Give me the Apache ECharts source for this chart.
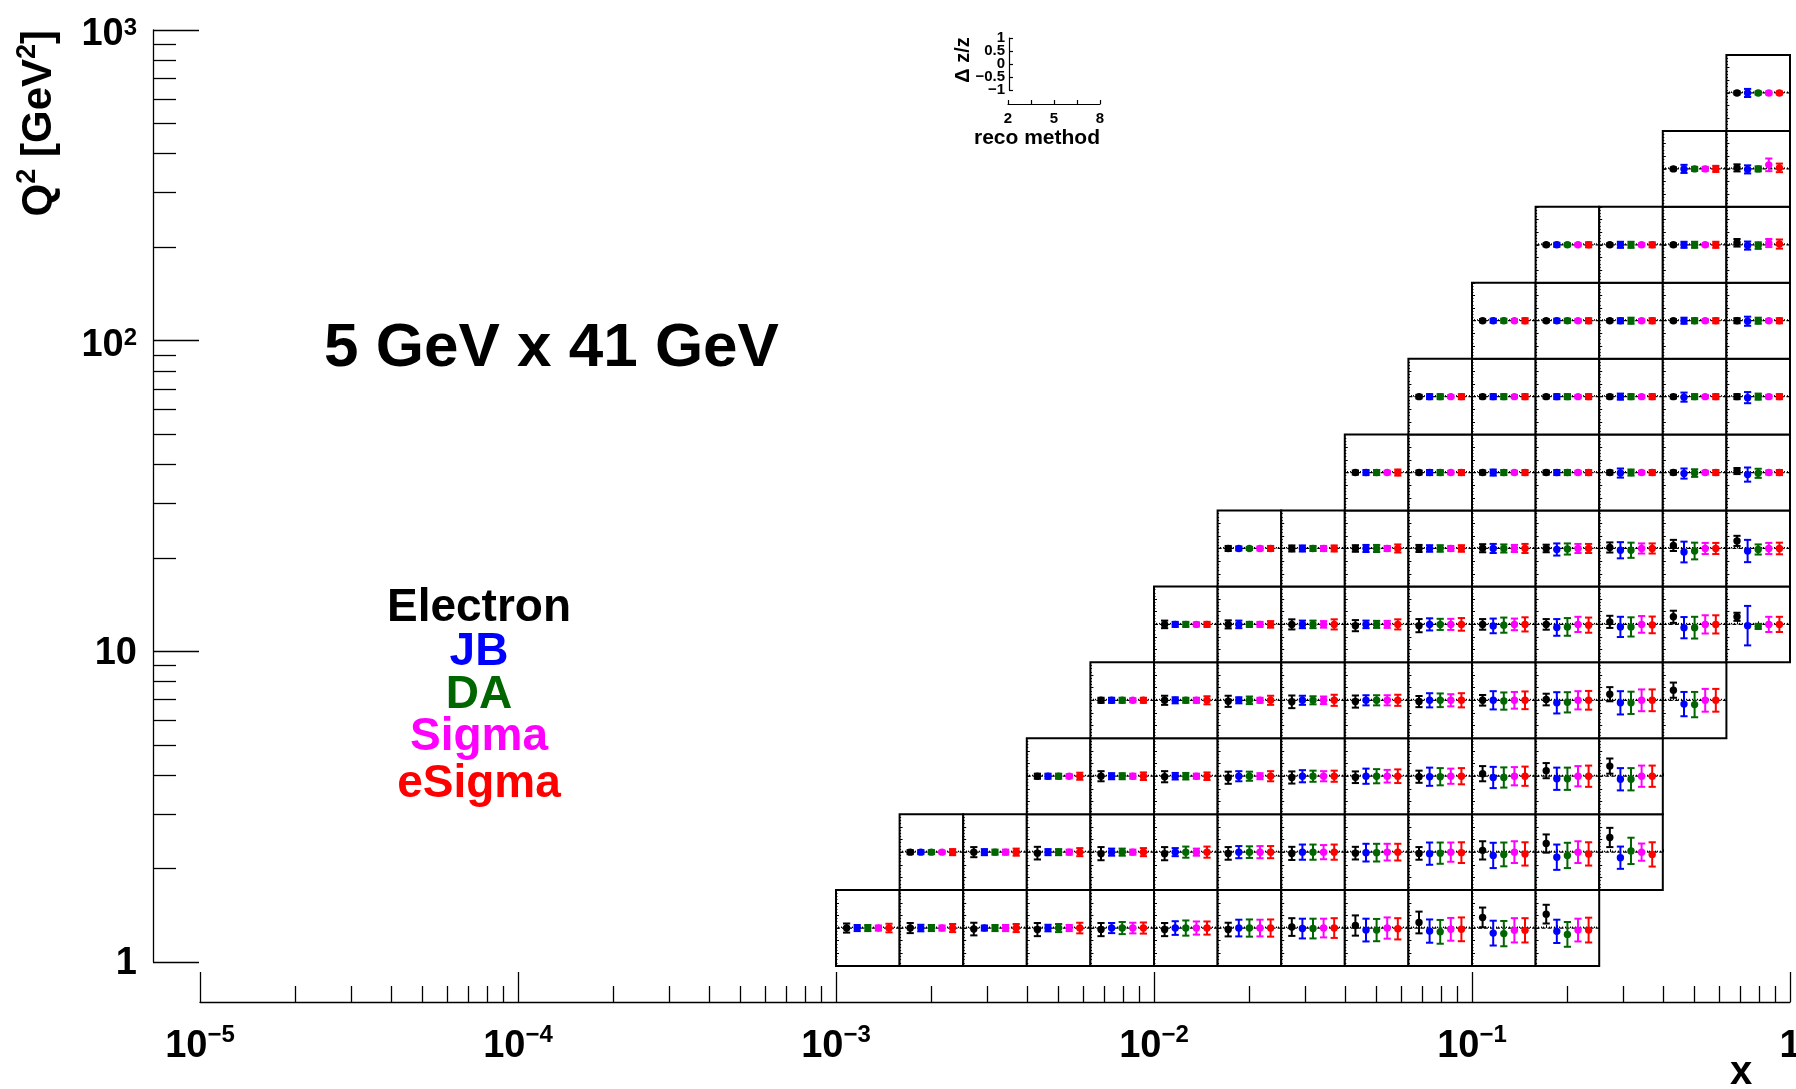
<!DOCTYPE html>
<html><head><meta charset="utf-8">
<script src="https://cdn.jsdelivr.net/npm/echarts@6/dist/echarts.min.js"></script>
<style>html,body{margin:0;padding:0;background:#fff}#c{width:1796px;height:1089px}</style>
</head><body><div id="c"></div>
<script>
// ---------------- data ----------------
const METHODS = ['Electron', 'JB', 'DA', 'Sigma', 'eSigma'];
const METHOD_COLORS = ['#000000', '#0000ff', '#006600', '#ff00ff', '#ff0000'];
const METHOD_X = [3, 4, 5, 6, 7];

const X_BIN_EDGES = [0.001, 0.001585, 0.002512, 0.003981, 0.00631, 0.01, 0.01585, 0.02512, 0.03981, 0.0631, 0.1, 0.1585, 0.2512, 0.3981, 0.631, 1];
const Q2_BIN_EDGES = [1, 1.778, 3.162, 5.623, 10, 17.78, 31.62, 56.23, 100, 177.8, 316.2, 562.3, 1000];

const X_TICKS = [1e-5, 1e-4, 1e-3, 1e-2, 1e-1, 1];
const X_TICK_LABELS = ['{b|10}{s|−5}', '{b|10}{s|−4}', '{b|10}{s|−3}', '{b|10}{s|−2}', '{b|10}{s|−1}', '1'];
const Q2_TICKS = [1, 10, 100, 1000];
const Q2_TICK_LABELS = ['{p|1}', '{p|10}', '{b|10}{s|2}', '{b|10}{s|3}'];
const INSET_Y_TICKS = [-1, -0.5, 0, 0.5, 1];
const INSET_Y_LABELS = ['−1', '−0.5', '0', '0.5', '1'];
const INSET_X_TICKS = [2, 5, 8];
const MINOR_MANTISSA = [2, 3, 4, 5, 6, 7, 8, 9];

// first / last x-bin (1-based) that carries a cell, for each Q2 row (bottom to top)
const ROW_FIRST_COL = [1, 2, 4, 5, 6, 7, 9, 10, 11, 12, 14, 15];
const ROW_LAST_COL  = [12, 13, 13, 14, 15, 15, 15, 15, 15, 15, 15, 15];

// relative resolution (Electron, JB, DA, Sigma, eSigma) per cell
const VAL_R01 = [[0,0,0,0,0],[0,0,0,0,0],[-0.04,0,0,0,0],[-0.06,0,0,0,0],[-0.06,0,0,0,0],[-0.06,0,0,0,0],[-0.06,0,0,0,0],[0.04,-0.02,-0.02,0,0],[0.1,-0.08,-0.08,0,-0.03],[0.22,-0.12,-0.15,-0.05,-0.05],[0.42,-0.2,-0.22,-0.09,-0.09],[0.55,-0.13,-0.25,-0.08,-0.08]];
const ERR_R01 = [[0.18,0.12,0.12,0.1,0.17],[0.2,0.13,0.12,0.1,0.16],[0.25,0.1,0.12,0.12,0.16],[0.26,0.13,0.16,0.12,0.21],[0.26,0.2,0.24,0.21,0.22],[0.26,0.27,0.3,0.26,0.26],[0.27,0.33,0.34,0.33,0.34],[0.35,0.39,0.39,0.37,0.39],[0.4,0.45,0.44,0.42,0.42],[0.43,0.46,0.47,0.45,0.47],[0.39,0.49,0.5,0.48,0.48],[0.37,0.46,0.49,0.45,0.49]];
const VAL_R02 = [[0,0,0,0,0],[0,0,0,0,0],[-0.04,0,0,0,0],[-0.06,0,0,0,0],[-0.06,0,0,0,0],[-0.05,0,0,0,0],[-0.05,0,0,0,0],[-0.04,-0.02,-0.02,0,0],[-0.05,-0.06,-0.04,0,-0.02],[0.07,-0.13,-0.09,0,-0.07],[0.34,-0.2,-0.13,0,-0.07],[0.58,-0.22,0.05,0,-0.09]];
const ERR_R02 = [[0.08,0.08,0.08,0.06,0.12],[0.2,0.12,0.1,0.1,0.14],[0.25,0.12,0.12,0.1,0.16],[0.26,0.14,0.14,0.1,0.16],[0.26,0.16,0.22,0.14,0.22],[0.25,0.24,0.23,0.24,0.24],[0.26,0.3,0.3,0.28,0.3],[0.25,0.35,0.35,0.33,0.33],[0.25,0.44,0.42,0.38,0.41],[0.36,0.5,0.47,0.43,0.46],[0.36,0.5,0.5,0.43,0.46],[0.38,0.44,0.52,0.34,0.48]];
const VAL_R03 = [[0,0,0,0,0],[0,0,0,0,0],[-0.02,0,0,0,0],[-0.06,0,0,0,0],[-0.05,0,0,0,0],[-0.04,0,0,0,0],[-0.02,-0.02,-0.02,0,0],[0.1,-0.05,-0.05,0,0],[0.22,-0.1,-0.1,0,0],[0.4,-0.12,-0.12,0,0]];
const ERR_R03 = [[0.1,0.1,0.1,0.08,0.14],[0.2,0.12,0.12,0.1,0.15],[0.22,0.13,0.13,0.1,0.15],[0.24,0.2,0.18,0.12,0.2],[0.24,0.24,0.22,0.2,0.22],[0.23,0.3,0.28,0.25,0.27],[0.24,0.36,0.34,0.3,0.32],[0.3,0.42,0.4,0.36,0.38],[0.3,0.44,0.44,0.4,0.42],[0.3,0.44,0.44,0.42,0.42]];
const VAL_R04 = [[0,0,0,0,0],[0,0,0,0,0],[-0.04,0,0,0,0],[-0.06,0,0,0,0],[-0.05,0,0,0,0],[-0.05,0,0,0,0],[0,0,-0.03,0,0],[0.03,-0.1,-0.08,0,0],[0.24,-0.1,-0.1,0,0],[0.4,-0.15,-0.17,0,0]];
const ERR_R04 = [[0.1,0.1,0.1,0.08,0.1],[0.18,0.12,0.1,0.1,0.16],[0.22,0.12,0.15,0.1,0.18],[0.25,0.18,0.16,0.15,0.22],[0.24,0.2,0.2,0.2,0.22],[0.22,0.28,0.27,0.24,0.28],[0.21,0.36,0.34,0.33,0.35],[0.23,0.42,0.4,0.36,0.37],[0.28,0.46,0.44,0.43,0.43],[0.3,0.48,0.5,0.45,0.45]];
const VAL_R05 = [[0,0,0,0,0],[0,0,0,0,0],[0,0,0,0,0],[-0.05,0,0,0,0],[-0.05,0,0,0,0],[0,-0.06,-0.03,0,0],[0,-0.12,-0.1,0,-0.03],[0.1,-0.1,-0.1,0,-0.02],[0.3,-0.13,-0.13,0,0],[0.3,-0.05,-0.08,0,0]];
const ERR_R05 = [[0.15,0.1,0.1,0.08,0.1],[0.16,0.15,0.1,0.1,0.13],[0.2,0.15,0.15,0.13,0.2],[0.22,0.15,0.14,0.14,0.2],[0.26,0.24,0.22,0.22,0.25],[0.21,0.29,0.3,0.23,0.28],[0.21,0.33,0.35,0.3,0.3],[0.24,0.4,0.38,0.33,0.33],[0.24,0.42,0.43,0.36,0.36],[0.16,0.78,0.1,0.3,0.3]];
const VAL_R06 = [[0,0,0,0,0],[0,0,0,0,0],[0,0,0,0,0],[0,0,0,0,0],[0.01,0,0,0,0],[0,-0.04,-0.02,0,0],[0.04,-0.07,-0.07,0,0],[0.12,-0.14,-0.1,0,0],[0.3,-0.1,-0.04,0,0]];
const ERR_R06 = [[0.1,0.08,0.06,0.08,0.1],[0.12,0.12,0.1,0.1,0.12],[0.13,0.14,0.14,0.1,0.16],[0.14,0.13,0.13,0.1,0.13],[0.16,0.18,0.16,0.14,0.18],[0.15,0.24,0.22,0.18,0.18],[0.2,0.32,0.3,0.2,0.2],[0.22,0.41,0.33,0.22,0.22],[0.2,0.44,0.2,0.22,0.23]];
const VAL_R07 = [[0,0,0,0,0],[0,0,0,0,0],[0,0,0,0,0],[0,0,0,0,0],[0,-0.02,0,0,0],[0,-0.04,-0.02,0,0],[0.06,-0.08,-0.03,0,0]];
const ERR_R07 = [[0.08,0.1,0.1,0.07,0.12],[0.08,0.1,0.1,0.07,0.1],[0.08,0.12,0.1,0.07,0.1],[0.08,0.1,0.1,0.07,0.1],[0.08,0.18,0.12,0.07,0.1],[0.08,0.2,0.15,0.07,0.1],[0.12,0.28,0.18,0.08,0.1]];
const VAL_R08 = [[0,0,0,0,0],[0,0,0,0,0],[0,0,0,0,0],[0,0,0,0,0],[0,-0.02,0,0,0],[0,-0.04,0,0,0]];
const ERR_R08 = [[0.07,0.1,0.1,0.06,0.1],[0.07,0.1,0.1,0.06,0.1],[0.07,0.1,0.1,0.06,0.1],[0.07,0.12,0.1,0.06,0.1],[0.07,0.18,0.1,0.06,0.1],[0.1,0.22,0.12,0.07,0.1]];
const VAL_R09 = [[0,0,0,0,0],[0,0,0,0,0],[0,0,0,0,0],[0,0,0,0,0],[0,-0.02,0,0,0]];
const ERR_R09 = [[0.06,0.08,0.08,0.06,0.1],[0.06,0.08,0.08,0.06,0.1],[0.06,0.1,0.12,0.06,0.1],[0.06,0.12,0.1,0.06,0.1],[0.1,0.18,0.12,0.06,0.1]];
const VAL_R10 = [[0,0,0,0,0],[0,0,0,0,0],[0,0,0,0,0],[0.08,-0.03,-0.03,0.07,0.03]];
const ERR_R10 = [[0.06,0.08,0.06,0.06,0.1],[0.06,0.12,0.12,0.06,0.1],[0.06,0.12,0.12,0.06,0.12],[0.15,0.16,0.13,0.16,0.18]];
const VAL_R11 = [[0,0,0,0,0],[0.04,-0.02,0,0.16,0.04]];
const ERR_R11 = [[0.06,0.16,0.08,0.08,0.12],[0.14,0.16,0.1,0.25,0.17]];
const VAL_R12 = [[0,0,0,0,0]];
const ERR_R12 = [[0.06,0.16,0.06,0.06,0.06]];

const ROW_VALS = [VAL_R01, VAL_R02, VAL_R03, VAL_R04, VAL_R05, VAL_R06, VAL_R07, VAL_R08, VAL_R09, VAL_R10, VAL_R11, VAL_R12];
const ROW_ERRS = [ERR_R01, ERR_R02, ERR_R03, ERR_R04, ERR_R05, ERR_R06, ERR_R07, ERR_R08, ERR_R09, ERR_R10, ERR_R11, ERR_R12];

// ---------------- chart ----------------
const FONT = "'Liberation Sans', Arial, Helvetica, sans-serif";
const chart = echarts.init(document.getElementById('c'), null, {renderer: 'canvas', width: 1796, height: 1089});

const X_MINOR = [];
[1e-5, 1e-4, 1e-3, 1e-2, 1e-1].forEach(d => MINOR_MANTISSA.forEach(m => X_MINOR.push(m * d)));
const Q2_MINOR = [];
[1, 10, 100].forEach(d => MINOR_MANTISSA.forEach(m => Q2_MINOR.push(m * d)));

function logIndex(ticks, v) {
  return ticks.findIndex(t => Math.abs(Math.log10(t) - Math.log10(v)) < 1e-6);
}
function insetLabel(v) {
  return INSET_Y_LABELS[INSET_Y_TICKS.findIndex(t => Math.abs(t - v) < 1e-9)] || '';
}
const richX = {
  b: {fontSize: 38, fontWeight: 'bold', fontFamily: FONT, color: '#000', lineHeight: 48},
  s: {fontSize: 24, fontWeight: 'bold', fontFamily: FONT, color: '#000', lineHeight: 24, verticalAlign: 'top'}
};
const richY = {
  p: {fontSize: 38, fontWeight: 'bold', fontFamily: FONT, color: '#000', lineHeight: 48, padding: [4, 0, 0, 0]},
  b: {fontSize: 38, fontWeight: 'bold', fontFamily: FONT, color: '#000', lineHeight: 48, padding: [10, 0, 0, 0]},
  s: {fontSize: 24, fontWeight: 'bold', fontFamily: FONT, color: '#000', lineHeight: 24, padding: [10, 0, 0, 0], verticalAlign: 'top'}
};
const blackLine = {color: '#000', width: 1.3};
const insetLabelStyle = {show: true, margin: 4, fontSize: 15, fontWeight: 'bold', fontFamily: FONT, color: '#000',
  hideOverlap: false, showMinLabel: true, showMaxLabel: true, formatter: insetLabel};

const baseGrids = [
  {left: 200, top: 1001, width: 1590, height: 1},
  {left: 200, top: 1001, width: 1590, height: 1},
  {left: 153, top: 30, width: 10, height: 932},
  {left: 153, top: 30, width: 10, height: 932},
  {left: 200, top: 55, width: 1590, height: 911},
  {left: 1009, top: 38, width: 91, height: 52},
  {left: 1008, top: 103, width: 92, height: 1},
  {left: 1009, top: 38, width: 91, height: 52}
];
const baseX = [
  {type: 'log', logBase: 10, gridIndex: 0, min: 1e-5, max: 1, position: 'bottom',
   axisLine: {show: true, lineStyle: blackLine},
   axisTick: {show: true, inside: true, length: 30, lineStyle: blackLine, customValues: X_TICKS},
   axisLabel: {show: true, customValues: X_TICKS.slice(0, 5), margin: 21, hideOverlap: false, showMinLabel: true,
     formatter: v => X_TICK_LABELS[logIndex(X_TICKS, v)] || '', rich: richX},
   splitLine: {show: false}},
  {type: 'log', logBase: 10, gridIndex: 1, min: 1e-5, max: 1, position: 'bottom',
   axisLine: {show: false}, axisLabel: {show: false}, splitLine: {show: false},
   axisTick: {show: true, inside: true, length: 16, lineStyle: blackLine, customValues: X_MINOR}},
  {type: 'value', gridIndex: 2, show: false},
  {type: 'value', gridIndex: 3, show: false},
  {type: 'log', logBase: 10, gridIndex: 4, min: 1e-5, max: 1, show: false},
  {type: 'value', gridIndex: 5, show: false},
  {type: 'value', gridIndex: 6, min: 2, max: 8, position: 'bottom',
   axisLine: {show: true, lineStyle: {color: '#000', width: 1.2}},
   axisTick: {show: true, inside: true, length: 4, lineStyle: {color: '#000', width: 1.2}, customValues: [2, 3.5, 5, 6.5, 8]},
   axisLabel: {show: true, customValues: INSET_X_TICKS, margin: 7, fontSize: 15, fontWeight: 'bold', fontFamily: FONT, color: '#000',
     showMinLabel: true, showMaxLabel: true, hideOverlap: false},
   splitLine: {show: false}},
  {type: 'value', gridIndex: 7, show: false}
];
const baseY = [
  {type: 'value', gridIndex: 0, show: false},
  {type: 'value', gridIndex: 1, show: false},
  {type: 'log', logBase: 10, gridIndex: 2, min: 1, max: 1000, position: 'left',
   axisLine: {show: true, lineStyle: blackLine},
   axisTick: {show: true, inside: true, length: 46, lineStyle: blackLine, customValues: Q2_TICKS},
   axisLabel: {show: true, customValues: Q2_TICKS, margin: 16, hideOverlap: false, showMinLabel: true, showMaxLabel: true,
     formatter: v => Q2_TICK_LABELS[logIndex(Q2_TICKS, v)] || '', rich: richY},
   splitLine: {show: false}},
  {type: 'log', logBase: 10, gridIndex: 3, min: 1, max: 1000, position: 'left',
   axisLine: {show: false}, axisLabel: {show: false}, splitLine: {show: false},
   axisTick: {show: true, inside: true, length: 23, lineStyle: blackLine, customValues: Q2_MINOR}},
  {type: 'log', logBase: 10, gridIndex: 4, min: 1, max: 1000, show: false},
  {type: 'value', gridIndex: 5, min: -1, max: 1, position: 'left',
   axisLine: {show: true, lineStyle: {color: '#000', width: 1.2}},
   axisTick: {show: true, inside: true, length: 4, lineStyle: {color: '#000', width: 1.2}, customValues: INSET_Y_TICKS},
   axisLabel: Object.assign({customValues: [INSET_Y_TICKS[0], INSET_Y_TICKS[2], INSET_Y_TICKS[4]]}, insetLabelStyle),
   splitLine: {show: false}},
  {type: 'value', gridIndex: 6, show: false},
  {type: 'value', gridIndex: 7, min: -1, max: 1, position: 'left',
   axisLine: {show: false}, axisTick: {show: false}, splitLine: {show: false},
   axisLabel: Object.assign({customValues: [INSET_Y_TICKS[1], INSET_Y_TICKS[3]]}, insetLabelStyle)}
];

chart.setOption({animation: false, grid: baseGrids, xAxis: baseX, yAxis: baseY});

function renderErr(params, api) {
  const x = api.value(0), v = api.value(1), e = api.value(2), m = api.value(3);
  const c = api.coord([x, v]), t = api.coord([x, v + e]), b = api.coord([x, v - e]);
  const col = METHOD_COLORS[m];
  const hw = 3.6;
  return {type: 'group', children: [
    {type: 'line', shape: {x1: c[0], y1: t[1], x2: c[0], y2: b[1]}, style: {stroke: col, lineWidth: 2}},
    {type: 'line', shape: {x1: c[0] - hw, y1: t[1], x2: c[0] + hw, y2: t[1]}, style: {stroke: col, lineWidth: 2}},
    {type: 'line', shape: {x1: c[0] - hw, y1: b[1], x2: c[0] + hw, y2: b[1]}, style: {stroke: col, lineWidth: 2}},
    {type: 'circle', shape: {cx: c[0], cy: c[1], r: 3.7}, style: {fill: col}}
  ]};
}

const grids = baseGrids.slice(), xAxes = baseX.slice(), yAxes = baseY.slice(), series = [];
for (let r = 0; r < ROW_FIRST_COL.length; r++) {
  const yTop = chart.convertToPixel({yAxisIndex: 4}, Q2_BIN_EDGES[r + 1]);
  const yBot = chart.convertToPixel({yAxisIndex: 4}, Q2_BIN_EDGES[r]);
  for (let col = ROW_FIRST_COL[r]; col <= ROW_LAST_COL[r]; col++) {
    const i = col - ROW_FIRST_COL[r];
    const xl = chart.convertToPixel({xAxisIndex: 4}, X_BIN_EDGES[col - 1]);
    const xr = chart.convertToPixel({xAxisIndex: 4}, X_BIN_EDGES[col]);
    const g = grids.length;
    grids.push({left: xl, top: yTop, width: xr - xl, height: yBot - yTop, show: true,
      borderColor: '#000', borderWidth: 2, backgroundColor: '#fff'});
    const tickCommon = {
      axisLine: {show: false}, axisLabel: {show: false}, splitLine: {show: false},
      axisTick: {show: true, inside: true, length: 3, lineStyle: {color: '#000', width: 1}},
      minorTick: {show: true, splitNumber: 4, length: 1.5, lineStyle: {color: '#000', width: 1}}
    };
    xAxes.push(Object.assign({type: 'value', gridIndex: g, min: 2, max: 8, interval: 1}, tickCommon));
    yAxes.push(Object.assign({type: 'value', gridIndex: g, min: -1.5, max: 1.5, interval: 0.5}, tickCommon));
    series.push({type: 'line', xAxisIndex: g, yAxisIndex: g, data: [[2, 0], [8, 0]], symbol: 'none', silent: true,
      lineStyle: {color: '#000', width: 1.2, type: [4, 2]}, z: 2});
    series.push({type: 'custom', xAxisIndex: g, yAxisIndex: g, z: 3, silent: true, renderItem: renderErr,
      data: METHOD_X.map((mx, k) => [mx, ROW_VALS[r][i][k], ROW_ERRS[r][i][k], k])});
  }
}

// last x tick label, placed at the axis position of x = 1 (drawn past the canvas edge as in the original)
const xOnePx = chart.convertToPixel({xAxisIndex: 0}, X_TICKS[5]);

const legendY = [608, 652, 695, 737, 784];
const graphic = [
  {type: 'text', x: xOnePx, y: 1047, style: {text: X_TICK_LABELS[5], font: `bold 38px ${FONT}`, fill: '#000', align: 'center', verticalAlign: 'middle'}},
  {type: 'text', x: 324, y: 349, style: {text: '5 GeV x 41 GeV', font: `bold 62px ${FONT}`, fill: '#000', align: 'left', verticalAlign: 'middle'}},
  {type: 'text', x: 39, y: 30, rotation: Math.PI / 2, style: {
    text: '{b|Q}{s|2}{b| [GeV}{s|2}{b|]}', align: 'right', verticalAlign: 'middle', fill: '#000',
    rich: {b: {fontSize: 42, fontWeight: 'bold', fontFamily: FONT, fill: '#000', lineHeight: 50},
           s: {fontSize: 27, fontWeight: 'bold', fontFamily: FONT, fill: '#000', lineHeight: 27, verticalAlign: 'top'}}}},
  {type: 'text', x: 1741, y: 1073, style: {text: 'x', font: `bold 40px ${FONT}`, fill: '#000', align: 'center', verticalAlign: 'middle'}},
  {type: 'text', x: 963, y: 60, rotation: Math.PI / 2, style: {text: 'Δ z/z', font: `bold 20px ${FONT}`, fill: '#000', align: 'center', verticalAlign: 'middle'}},
  {type: 'text', x: 1037, y: 138, style: {text: 'reco method', font: `bold 21px ${FONT}`, fill: '#000', align: 'center', verticalAlign: 'middle'}}
];
METHODS.forEach((name, k) => graphic.push({type: 'text', x: 479, y: legendY[k],
  style: {text: name, font: `bold 46px ${FONT}`, fill: METHOD_COLORS[k], align: 'center', verticalAlign: 'middle'}}));

chart.setOption({animation: false, grid: grids, xAxis: xAxes, yAxis: yAxes, series: series, graphic: graphic}, true);
</script></body></html>
